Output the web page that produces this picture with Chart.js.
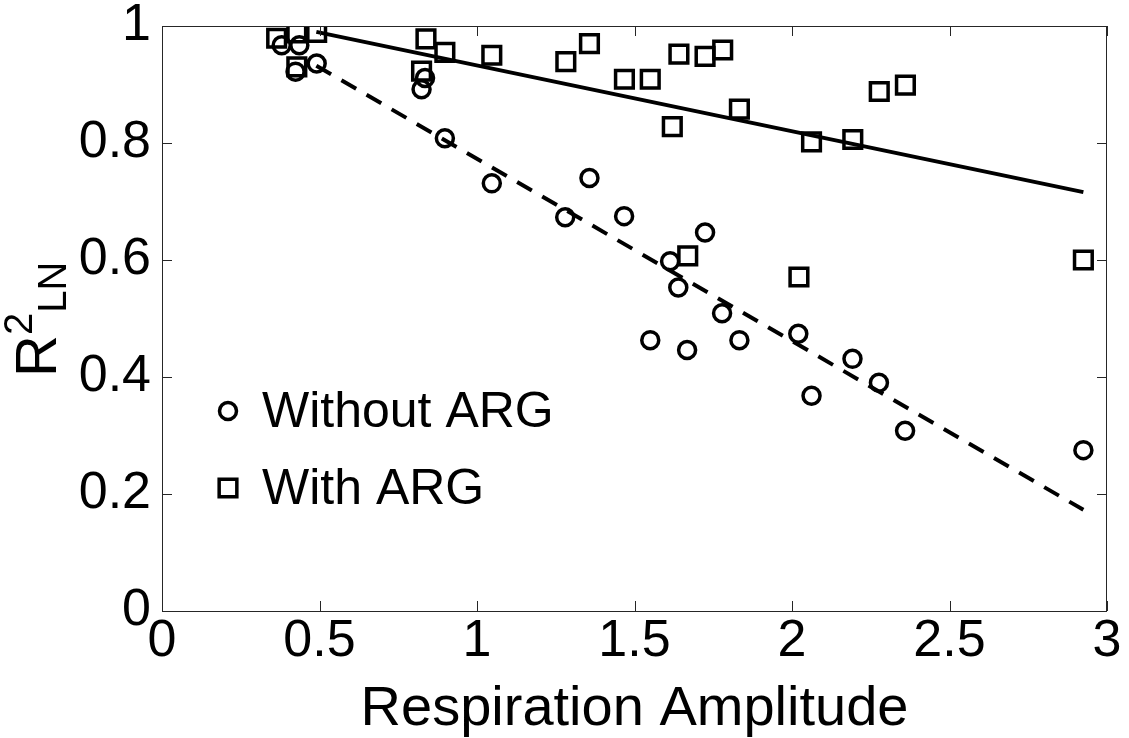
<!DOCTYPE html>
<html>
<head>
<meta charset="utf-8">
<script src="https://cdn.jsdelivr.net/npm/chart.js@4.4.1/dist/chart.umd.min.js"></script>
<style>
  html, body { margin: 0; padding: 0; background: #fff; }
  #wrap { width: 1129px; height: 738px; position: relative; }
</style>
</head>
<body>
<div id="wrap"><canvas id="grafico"></canvas></div>
<script>
// amplitude de respiração e R² de cada paciente, sem e com ARG
const ampSemARG = [0.38, 0.436, 0.424, 0.491, 0.835, 0.824, 0.898, 1.047, 1.28, 1.357, 1.467, 1.55, 1.613, 1.639, 1.667, 1.724, 1.778, 1.833, 2.02, 2.062, 2.192, 2.276, 2.359, 2.925];
const r2SemARG = [0.967, 0.967, 0.922, 0.936, 0.911, 0.892, 0.808, 0.731, 0.673, 0.74, 0.675, 0.463, 0.598, 0.553, 0.446, 0.647, 0.509, 0.463, 0.474, 0.368, 0.431, 0.39, 0.308, 0.275];
const ampComARG = [0.364, 0.428, 0.428, 0.491, 0.824, 0.838, 0.898, 1.047, 1.282, 1.357, 1.468, 1.55, 1.62, 1.641, 1.669, 1.724, 1.78, 1.833, 2.022, 2.062, 2.193, 2.277, 2.36, 2.925];
const r2ComARG = [0.979, 0.988, 0.93, 0.989, 0.923, 0.978, 0.955, 0.95, 0.939, 0.97, 0.909, 0.909, 0.828, 0.952, 0.607, 0.948, 0.959, 0.858, 0.571, 0.802, 0.806, 0.888, 0.899, 0.6];

// retas de ajuste (extremos)
const ajusteX = [0.49, 2.925];
const ajusteSemARG = [0.932, 0.173];
const ajusteComARG = [0.99, 0.716];

const ticksX = ['0', '0.5', '1', '1.5', '2', '2.5', '3'];
const ticksY = ['0', '0.2', '0.4', '0.6', '0.8', '1'];
const legendas = ['Without ARG', 'With ARG'];

const fonte = "'Liberation Sans', Arial, sans-serif";

function pontos(xs, ys) {
    return xs.map((x, i) => ({ x: x, y: ys[i] }));
}

// caixa dos eixos com ticks para dentro (estilo matlab)
const moldura = {
    id: 'moldura',
    afterDatasetsDraw(chart) {
        const { ctx, chartArea: a, scales } = chart;
        const tam = 10;
        ctx.save();
        ctx.strokeStyle = '#262626';
        ctx.lineWidth = 1;
        ctx.strokeRect(a.left + 0.5, a.top + 0.5, a.right - a.left - 1, a.bottom - a.top);
        ctx.beginPath();
        scales.x.ticks.forEach(t => {
            const px = Math.round(scales.x.getPixelForValue(t.value)) + 0.5;
            ctx.moveTo(px, a.bottom); ctx.lineTo(px, a.bottom - tam);
            ctx.moveTo(px, a.top); ctx.lineTo(px, a.top + tam);
        });
        scales.y.ticks.forEach(t => {
            const py = Math.round(scales.y.getPixelForValue(t.value)) + 0.5;
            ctx.moveTo(a.left, py); ctx.lineTo(a.left + tam, py);
            ctx.moveTo(a.right, py); ctx.lineTo(a.right - tam, py);
        });
        ctx.stroke();
        ctx.restore();
    }
};

// titulo do eixo y com sobrescrito e subscrito
const tituloY = {
    id: 'tituloY',
    afterDraw(chart) {
        const ctx = chart.ctx;
        ctx.save();
        ctx.translate(56, 377);
        ctx.rotate(-Math.PI / 2);
        ctx.fillStyle = '#000';
        ctx.textBaseline = 'alphabetic';
        ctx.textAlign = 'left';
        ctx.font = '58px ' + fonte;
        ctx.fillText('R', 0, 0);
        let w = ctx.measureText('R').width;
        ctx.font = '40px ' + fonte;
        ctx.fillText('2', w, -24);
        ctx.fillText('LN', w + ctx.measureText('2').width, 10);
        ctx.restore();
    }
};

// legenda dentro da area do grafico
const legenda = {
    id: 'legenda',
    afterDraw(chart) {
        const ctx = chart.ctx;
        const estilos = ['circle', 'rect'];
        const raios = [8.5, 12.5];
        const linhas = [411, 488];
        ctx.save();
        legendas.forEach((txt, i) => {
            ctx.strokeStyle = '#000';
            ctx.fillStyle = 'rgba(0,0,0,0)';
            ctx.lineWidth = 3.5;
            Chart.helpers.drawPoint(ctx, { pointStyle: estilos[i], radius: raios[i], borderWidth: 3.5 }, 228, linhas[i]);
            ctx.fillStyle = '#000';
            ctx.font = '50px ' + fonte;
            ctx.textBaseline = 'middle';
            ctx.textAlign = 'left';
            ctx.fillText(txt, 262, linhas[i] + 2);
        });
        ctx.restore();
    }
};

// sem folga extra dos rotulos nas pontas, a area fica fixa
function semFolga(s) {
    s.paddingTop = 0;
    s.paddingBottom = 0;
    s.paddingLeft = 0;
    s.paddingRight = 0;
}

new Chart(document.getElementById('grafico'), {
    type: 'scatter',
    data: {
        datasets: [
            {
                label: legendas[0],
                data: pontos(ampSemARG, r2SemARG),
                pointStyle: 'circle',
                pointRadius: 8.5,
                borderWidth: 3.5,
                borderColor: '#000',
                backgroundColor: 'rgba(0,0,0,0)'
            },
            {
                label: legendas[1],
                data: pontos(ampComARG, r2ComARG),
                pointStyle: 'rect',
                pointRadius: 12.5,
                borderWidth: 3.5,
                borderColor: '#000',
                backgroundColor: 'rgba(0,0,0,0)'
            },
            {
                type: 'line',
                label: 'ajuste sem ARG',
                data: pontos(ajusteX, ajusteSemARG),
                borderColor: '#000',
                borderWidth: 4,
                borderDash: [17, 12],
                pointRadius: 0,
                fill: false
            },
            {
                type: 'line',
                label: 'ajuste com ARG',
                data: pontos(ajusteX, ajusteComARG),
                borderColor: '#000',
                borderWidth: 4,
                pointRadius: 0,
                fill: false
            }
        ]
    },
    options: {
        responsive: true,
        maintainAspectRatio: false,
        animation: false,
        layout: { padding: { top: 26, right: 22, left: 0, bottom: 0 } },
        plugins: {
            legend: { display: false },
            tooltip: { enabled: false }
        },
        scales: {
            x: {
                type: 'linear',
                min: 0,
                max: 3,
                grid: { display: false, drawTicks: false },
                border: { display: false },
                ticks: {
                    stepSize: 0.5,
                    maxRotation: 0,
                    autoSkip: false,
                    padding: 5,
                    color: '#000',
                    font: { family: fonte, size: 52, lineHeight: 1 },
                    callback: (v, i) => ticksX[i]
                },
                title: {
                    display: true,
                    text: 'Respiration Amplitude',
                    color: '#000',
                    font: { family: fonte, size: 56, lineHeight: 1 },
                    padding: { top: 4, bottom: 0 }
                },
                afterFit(s) { s.height = 127; semFolga(s); }
            },
            y: {
                min: 0,
                max: 1,
                grid: { display: false, drawTicks: false },
                border: { display: false },
                ticks: {
                    stepSize: 0.2,
                    autoSkip: false,
                    padding: 11,
                    color: '#000',
                    font: { family: fonte, size: 52, lineHeight: 1 },
                    callback: (v, i) => ticksY[i]
                },
                afterFit(s) { s.width = 162; semFolga(s); }
            }
        }
    },
    plugins: [moldura, tituloY, legenda]
});
</script>
</body>
</html>
